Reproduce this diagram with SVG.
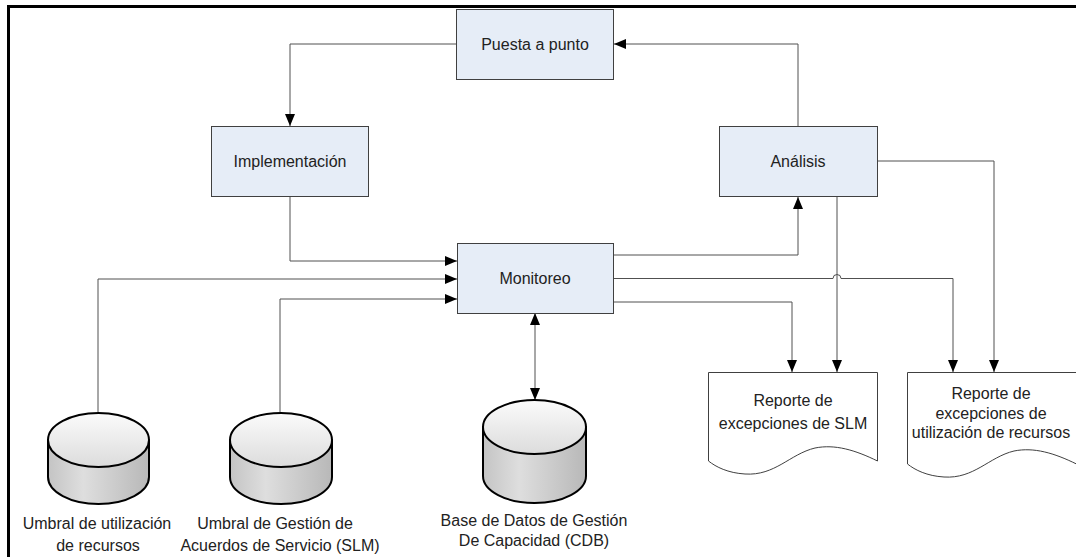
<svg xmlns="http://www.w3.org/2000/svg" width="1076" height="557" viewBox="0 0 1076 557">
<style>
.box{fill:#e6edf7;stroke:#404040;stroke-width:1}
.doc{fill:#ffffff;stroke:#404040;stroke-width:1}
.cyl{stroke:#000;stroke-width:2}
.conn{fill:none;stroke:#505050;stroke-width:1}
.t{font-family:"Liberation Sans",Arial,sans-serif;font-size:16px;fill:#222;text-anchor:middle}
</style>
<defs>
<marker id="arr" markerUnits="userSpaceOnUse" markerWidth="12" markerHeight="10" viewBox="0 0 12 10" refX="12" refY="5" orient="auto">
<path d="M0,0 L12,5 L0,10 Z" fill="#000"/>
</marker>
<marker id="arrs" markerUnits="userSpaceOnUse" markerWidth="12" markerHeight="10" viewBox="0 0 12 10" refX="0" refY="5" orient="auto">
<path d="M12,0 L0,5 L12,10 Z" fill="#000"/>
</marker>
<linearGradient id="body" x1="0" y1="0" x2="1" y2="0">
<stop offset="0" stop-color="#c4c4c4"/>
<stop offset="0.35" stop-color="#dedede"/>
<stop offset="1" stop-color="#b8b8b8"/>
</linearGradient>
<linearGradient id="top" x1="0" y1="0" x2="0" y2="1">
<stop offset="0" stop-color="#fbfbfb"/>
<stop offset="1" stop-color="#dcdcdc"/>
</linearGradient>
</defs>
<rect width="1076" height="557" fill="#fff"/>
<!-- frame -->
<path d="M8.5,557 V6.5 H1076" fill="none" stroke="#000" stroke-width="3"/>

<g id="connectors">
<path class="conn" d="M798,126 V44 H614" marker-end="url(#arr)"/>
<path class="conn" d="M456,44 H290 V126" marker-end="url(#arr)"/>
<path class="conn" d="M290,197 V261 H457" marker-end="url(#arr)"/>
<path class="conn" d="M98,412 V279 H457" marker-end="url(#arr)"/>
<path class="conn" d="M280,412 V299 H457" marker-end="url(#arr)"/>
<path class="conn" d="M614,255 H798 V197" marker-end="url(#arr)"/>
<path class="conn" d="M614,278.5 H833 A4,4 0 0 1 841,278.5 H953 V372" marker-end="url(#arr)"/>
<path class="conn" d="M614,302 H792 V372" marker-end="url(#arr)"/>
<path class="conn" d="M837,197 V372" marker-end="url(#arr)"/>
<path class="conn" d="M878,161 H994 V372" marker-end="url(#arr)"/>
<path class="conn" d="M535,313 V400" marker-start="url(#arrs)" marker-end="url(#arr)"/>
</g>

<g id="puesta">
<rect class="box" x="456.5" y="9.5" width="157" height="70"/>
<text class="t" x="535" y="49.5">Puesta a punto</text>
</g>
<g id="implementacion">
<rect class="box" x="211.5" y="126.5" width="157" height="70"/>
<text class="t" x="290" y="166.5">Implementación</text>
</g>
<g id="analisis">
<rect class="box" x="719.5" y="126.5" width="158" height="70"/>
<text class="t" x="798" y="166.5">Análisis</text>
</g>
<g id="monitoreo">
<rect class="box" x="457.5" y="243.5" width="156" height="70"/>
<text class="t" x="535" y="284">Monitoreo</text>
</g>

<g id="reporte-slm">
<path class="doc" d="M708.5,372.5 H877.5 V461 C855,450 835,444 815,448 C790,454 775,476 745,474 C728,473 716,467 708.5,461 Z"/>
<text class="t" x="793" y="406">Reporte de</text>
<text class="t" x="793" y="429">excepciones de SLM</text>
</g>
<g id="reporte-recursos">
<path class="doc" d="M907.5,372.5 H1076.5 V464 C1054,453 1034,447 1014,451 C989,457 974,479 944,477 C927,476 915,470 907.5,464 Z"/>
<text class="t" x="991" y="399">Reporte de</text>
<text class="t" x="991" y="419">excepciones de</text>
<text class="t" x="991" y="438">utilización de recursos</text>
</g>

<g id="umbral-recursos">
<path class="cyl" fill="url(#body)" d="M48,440 V477 A50.5,27 0 0 0 149,477 V440 Z"/>
<ellipse class="cyl" fill="url(#top)" cx="98.5" cy="440" rx="50.5" ry="27"/>
<text class="t" x="97" y="529">Umbral de utilización</text>
<text class="t" x="98" y="551">de recursos</text>
</g>
<g id="umbral-slm">
<path class="cyl" fill="url(#body)" d="M230,440 V477 A51,27 0 0 0 332,477 V440 Z"/>
<ellipse class="cyl" fill="url(#top)" cx="281" cy="440" rx="51" ry="27"/>
<text class="t" x="275" y="529">Umbral de Gestión de</text>
<text class="t" x="280" y="551">Acuerdos de Servicio (SLM)</text>
</g>
<g id="cdb">
<path class="cyl" fill="url(#body)" d="M483,427 V476 A51.5,27 0 0 0 586,476 V427 Z"/>
<ellipse class="cyl" fill="url(#top)" cx="534.5" cy="427" rx="51.5" ry="27"/>
<text class="t" x="534" y="526">Base de Datos de Gestión</text>
<text class="t" x="534" y="546">De Capacidad (CDB)</text>
</g>
</svg>
